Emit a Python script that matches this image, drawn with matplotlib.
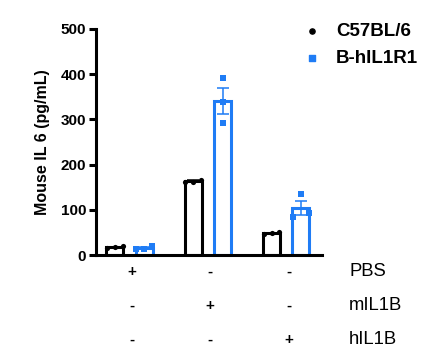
import matplotlib.pyplot as plt
import numpy as np

plt.rcParams['font.family'] = ['Liberation Sans', 'DejaVu Sans']

GROUPS = ['PBS', 'mIL1B', 'hIL1B']
SERIES = ['C57BL/6', 'B-hIL1R1']
COLORS = ['black', '#1f7cf5']
MARKERS = ['o', 's']

# individual replicate values per group (pg/mL)
c57_points = [[15, 20, 17], [161, 167, 162], [46, 50, 48]]
hil1r1_points = [[13, 19, 14], [391, 339, 293], [136, 83, 94]]

# treatment table under the x axis
TABLE_ROWS = ['PBS', 'mIL1B', 'hIL1B']
TABLE_SIGNS = [['+', '-', '-'],
               ['-', '+', '-'],
               ['-', '-', '+']]


def spread(vals, dist, w):
    # rough Prism-style scatter: separate points that sit close together
    vals = np.asarray(vals, dtype=float)
    offs = np.zeros(len(vals))
    order = np.argsort(vals)
    i = 0
    while i < len(order):
        j = i
        while j + 1 < len(order) and vals[order[j + 1]] - vals[order[j]] < dist:
            j += 1
        n = j - i + 1
        if n > 1:
            pos = np.linspace(-w, w, n)
            for k, idx in enumerate(order[i:j + 1]):
                offs[idx] = pos[k]
        i = j + 1
    return offs


fig = plt.figure(figsize=(4.32, 3.61), dpi=100)
ax = fig.add_axes([0.2222, 0.2936, 0.5232, 0.6261])

x = np.arange(len(GROUPS))
shift = 0.187
bw = 0.215

for s, pts in enumerate([c57_points, hil1r1_points]):
    col = COLORS[s]
    xs = x + (shift if s else -shift)
    means = [np.mean(p) for p in pts]
    sems = [np.std(p, ddof=1) / np.sqrt(len(p)) for p in pts]
    ax.bar(xs, means, width=bw, facecolor='white', edgecolor=col, linewidth=2.2, zorder=2)
    ax.errorbar(xs, means, yerr=sems, fmt='none', ecolor=col, elinewidth=1.3,
                capsize=4.5, capthick=1.3, zorder=3, alpha=0.85)
    for i, p in enumerate(pts):
        offs = spread(p, 25, 0.1)
        ax.scatter(xs[i] + offs, p, marker=MARKERS[s], s=18 if s else 14, color=col,
                   linewidths=0, zorder=4)
    ax.scatter([], [], marker=MARKERS[s], s=14, color=col, label=SERIES[s])

ax.set_xlim(-0.427, 2.456)
ax.set_ylim(0, 500)
ax.set_yticks([0, 100, 200, 300, 400, 500])
ax.set_xticks([])
for sp in ['top', 'right']:
    ax.spines[sp].set_visible(False)
for sp in ['left', 'bottom']:
    ax.spines[sp].set_linewidth(2.2)
ax.tick_params(axis='y', length=5, width=2.2, labelsize=11, pad=2)
for lab in ax.get_yticklabels():
    lab.set_fontweight('bold')
ax.set_ylabel('Mouse IL 6 (pg/mL)', fontsize=11.5, fontweight='bold', labelpad=8)

leg = ax.legend(loc='upper left', bbox_to_anchor=(0.838, 1.10), frameon=False,
                prop={'size': 13.5, 'weight': 'bold'}, handletextpad=0.8,
                labelspacing=0.5, markerscale=1.0, handlelength=1.0)

row_y = [-0.075, -0.225, -0.375]
for r, name in enumerate(TABLE_ROWS):
    for g in range(len(GROUPS)):
        ax.text(x[g] + 0.03, row_y[r], TABLE_SIGNS[r][g], transform=ax.get_xaxis_transform(),
                ha='center', va='center', fontsize=11, fontweight='bold')
    ax.text(1.12, row_y[r], name, transform=ax.transAxes, ha='left', va='center', fontsize=13.3)

fig.savefig('out.png', dpi=100)
